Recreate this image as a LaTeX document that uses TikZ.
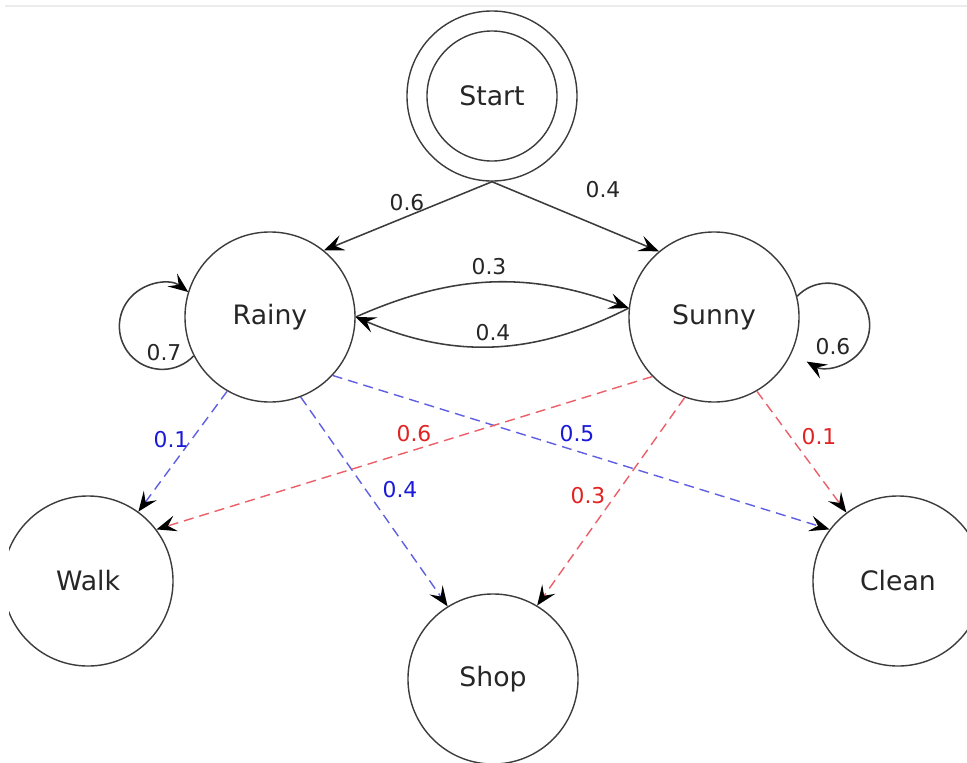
\documentclass[tikz,border=0pt]{standalone}
\usepackage{fontspec}
\setmainfont{DejaVu Sans}
\usetikzlibrary{arrows.meta}
\definecolor{inkgray}{RGB}{60,60,60}
\definecolor{emisblue}{RGB}{95,95,225}
\definecolor{emisred}{RGB}{235,95,105}
\definecolor{lblblue}{RGB}{25,25,215}
\definecolor{lblred}{RGB}{225,35,35}
\begin{document}
\begin{tikzpicture}[x=0.025cm,y=-0.025cm,
  state/.style={circle, draw=inkgray, line width=1pt, minimum size=4.25cm,
    inner sep=0pt, text=black!85, font=\fontsize{19}{22}\selectfont},
  trans/.style={draw=inkgray, line width=1.1pt,
    -{Stealth[black,length=0.5cm,width=0.4cm,inset=0.2cm]}},
  emit/.style={line width=1pt, dash pattern=on 0.25cm off 0.15cm,
    -{Stealth[black,length=0.5cm,width=0.4cm,inset=0.2cm]}},
  lbl/.style={font=\fontsize{15.5}{18}\selectfont, text=black!85, inner sep=1pt},
  lblb/.style={lbl, text=lblblue},
  lblr/.style={lbl, text=lblred}]
\useasboundingbox (0,0) rectangle (967,763);
\draw[gray!15, line width=1.4pt] (5,6) -- (967,6);
\begin{scope}
\clip (9,0) rectangle (967,763);
% states
\node[state] (Start) at (492,96) {Start};
\node[state, minimum size=3.25cm] (StartIn) at (Start) {};
\node[state] (Rainy) at (270,317) {Rainy};
\node[state] (Sunny) at (714,317) {Sunny};
\node[state] (Walk) at (88,581) {Walk};
\node[state] (Shop) at (493,679) {Shop};
\node[state] (Clean) at (898,581) {Clean};
% transitions
\draw[trans] (Start.south) -- (Rainy.51);
\draw[trans] (Start.south) -- (Sunny.130);
\draw[trans] (Rainy.east) to[bend left=22] (Sunny.174);
\draw[trans] (Sunny.174) to[bend left=25] (Rainy.east);
\draw[trans] (Rainy.207) arc[start angle=-43.4, delta angle=-263.6, radius=1.075cm];
\draw[trans] (Sunny.14) arc[start angle=136.5, end angle=-120, radius=1.05cm];
% emissions
\draw[emit, emisblue] (Rainy.240) -- (Walk.54);
\draw[emit, emisblue] (Rainy.291) -- (Shop.122);
\draw[emit, emisblue] (Rainy.317) -- (Clean.143);
\draw[emit, emisred] (Sunny.224) -- (Walk.37);
\draw[emit, emisred] (Sunny.250) -- (Shop.59);
\draw[emit, emisred] (Sunny.300) -- (Clean.127);
% probabilities
\node[lbl] (pStR) at (407,203) {0.6};
\node[lbl] (pStS) at (603,190) {0.4};
\node[lbl] (pRS) at (489,267) {0.3};
\node[lbl] (pSR) at (493,333) {0.4};
\node[lbl] (pRR) at (164,353) {0.7};
\node[lbl] (pSS) at (833,347) {0.6};
\node[lblb] (eRW) at (171,440) {0.1};
\node[lblb] (eRH) at (400,490) {0.4};
\node[lblb] (eRC) at (577,434) {0.5};
\node[lblr] (eSW) at (414,434) {0.6};
\node[lblr] (eSH) at (588,496) {0.3};
\node[lblr] (eSC) at (819,437) {0.1};
\end{scope}
\end{tikzpicture}
\end{document}
